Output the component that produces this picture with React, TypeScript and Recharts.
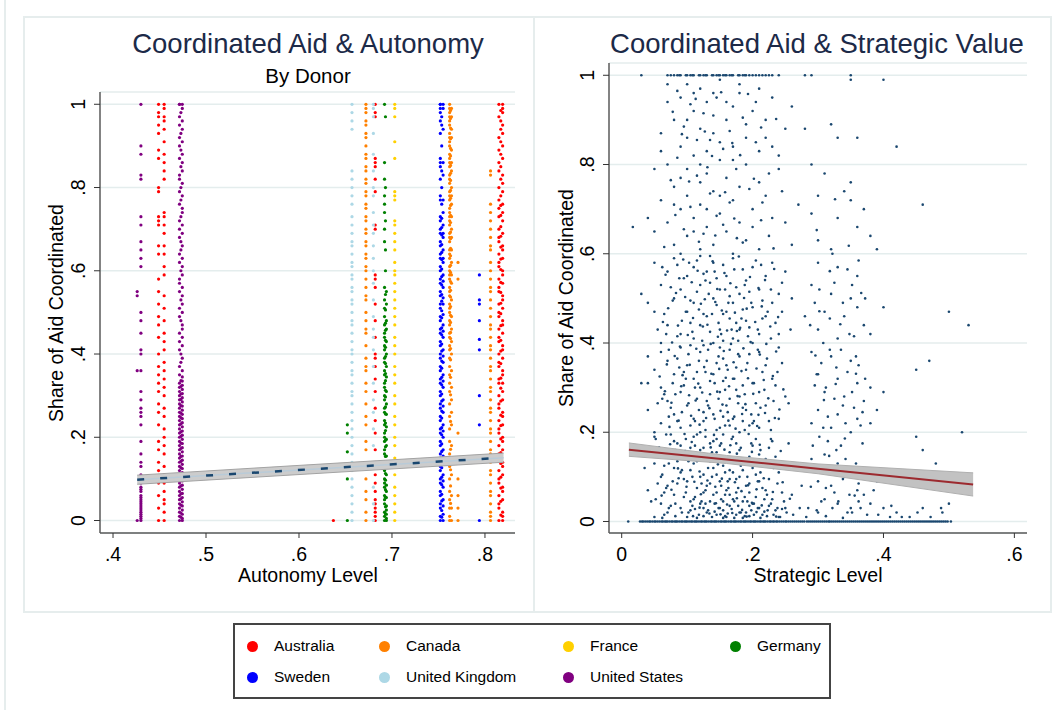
import { ComposedChart, Scatter, Line, Area, XAxis, YAxis, CartesianGrid } from 'recharts'

const FONT = '"Liberation Sans", Arial, Helvetica, sans-serif'
const NAVY = '#1a476f'

// legend order
const donors = ['Australia', 'Canada', 'France', 'Germany', 'Sweden', 'United Kingdom', 'United States']
const donorColors = ['#ff0000', '#ff8000', '#ffd000', '#008000', '#0000ff', '#add8e6', '#800080']

// share of aid coordinated, one list per donor-year autonomy column
const aus449 = [1, .98, .97, .95, .93, .89, .87, .80, .79, .73, .72, .71, .66, .64, .58, .55, .52, .49, .47, .44, .40, .37, .35, .33, .31, .28, .26, .23, .19, .17, .14, .12, .09, .06, .03, 0]
const aus455 = [1, .99, .97, .96, .94, .91, .88, .86, .84, .82, .74, .73, .71, .69, .66, .64, .61, .59, .54, .51, .48, .45, .43, .41, .38, .36, .34, .32, .30, .27, .25, .22, .20, .18, .16, .13, .11, .09, .07, .05, .04, .02, 0]
const aus637 = [0]
const aus682 = [1, .98, .97, .87, .86, .85, .82, .79, .71, .70, .59, .58, .56, .52, .48, .44, .40, .39, .37, .34, .31, .27, .24, .21, .17, .14, .11, .09, .07, .05, .04, .03, .02, .01, 0]
const aus815 = [1, .97, .92, .89, .86, .84, .80, .77, .75, .73, .70, .68, .67, .64, .62, .61, .58, .56, .55, .52, .50, .49, .46, .44, .43, .40, .38, .37, .34, .33, .30, .28, .27, .24, .22, .21, .18, .16, .15, .12, .10, .09, .06, .04, .03, 0]
const aus817 = [.985, .96, .94, .91, .88, .85, .82, .78, .757, .733, .706, .683, .657, .628, .603, .572, .548, .522, .497, .468, .433, .407, .377, .342, .318, .287, .253, .228, .196, .163, .137, .104, .078, .046, .013]
const aus819 = [1, .99, .98, .95, .93, .90, .87, .83, .81, .79, .76, .74, .72, .69, .66, .65, .63, .60, .59, .57, .54, .53, .51, .48, .47, .45, .42, .41, .39, .36, .35, .33, .31, .29, .26, .25, .23, .20, .19, .17, .14, .13, .11, .08, .07, .05, .02, .01, 0]

const can672 = [1, .99, .98, .96, .95, .93, .92, .90, .88, .87, .85, .84, .82, .81, .79, .78, .76, .75, .73, .72, .70, .69, .67, .66, .64, .63, .61, .60, .58, .56, .54, .53, .50, .48, .46, .45, .42, .39, .37, .36, .33, .31, .28, .25, .23, .19, .17, .13, .10, .07, .05, .02, 0]
const can762 = [1, .99, .98, .97, .96, .95, .93, .92, .91, .90, .88, .87, .86, .85, .83, .82, .81, .79, .78, .77, .75, .74, .73, .72, .71, .69, .68, .67, .65, .64, .63, .61, .60, .59, .58, .56, .55, .54, .52, .51, .50, .48, .47, .45, .44, .42, .41, .39, .37, .35, .33, .31, .28, .25, .22, .19, .16, .13, .10, .07, .05, .03, .01, 0]
const can763 = [.985, .966, .943, .917, .894, .876, .853, .834, .817, .793, .774, .757, .733, .716, .693, .677, .654, .636, .613, .596, .574, .553, .537, .514, .493, .476, .452, .437, .413, .386, .344, .302, .238, .171, .122, .083, .041]
const can764 = [.99, .97, .94, .92, .89, .86, .84, .80, .78, .76, .73, .70, .68, .65, .62, .59, .57, .53, .49, .46, .43, .40, .36, .32, .29, .26, .23, .18, .14, .11, .06, .03, 0]
const can771 = [.62, .58, .21, .10, .06, .03, 0]
const can806 = [.84, .83, .76, .74, .72, .70, .68, .66, .65, .62, .60, .58, .56, .55, .53, .51, .49, .47, .46, .44, .42, .41, .39, .37, .36, .34, .32, .31, .29, .27, .26, .24, .22, .21, .19, .17, .16, .14, .12, .11, .09, .07, .06, .04, .02, .01, 0]

const fra703 = [1, .99, .97, .91, .87, .79, .78, .77, .72, .71, .69, .67, .65, .62, .60, .59, .57, .55, .53, .51, .49, .47, .44, .42, .40, .37, .35, .33, .30, .28, .25, .23, .20, .18, .15, .13, .11, .08, .06, .04, .02, 0]

const ger652 = [.23, .21, .165, .10, 0]
const ger692 = [1, .86, .82, .78, .76, .74, .70, .67, .56, .53, .51, .49, .47, .45, .44, .42, .41, .39, .38, .36, .35, .33, .32, .30, .29, .27, .26, .24, .23, .21, .20, .19, .17, .16, .14, .13, .12, .10, .09, .08, .06, .05, .04, .02, .01, 0]
const ger693 = [.97, .80, .72, .65, .60, .543, .506, .474, .457, .433, .416, .394, .377, .353, .336, .313, .297, .273, .256, .234, .216, .193, .177, .154, .136, .113, .097, .074, .056, .033, .016]
const ger694 = [.55, .52, .48, .46, .43, .40, .37, .345, .31, .28, .255, .225, .195, .18, .155, .135, .11, .085, .07, .055, .035, .025, .015, .005, 0]

const swe752 = [1, 1, .99, .98, .96, .93, .87, .86, .85, .82, .78, .77, .73, .72, .70, .69, .67, .66, .64, .63, .61, .60, .58, .57, .55, .54, .52, .51, .49, .48, .46, .45, .43, .42, .40, .39, .37, .36, .34, .33, .31, .30, .28, .27, .25, .24, .22, .21, .19, .18, .16, .15, .13, .12, .10, .09, .07, .06, .04, .03, .01, 0]
const swe7535 = [.97, .95, .90, .84, .80, .76, .726, .704, .686, .663, .644, .627, .604, .586, .566, .543, .527, .504, .487, .463, .446, .424, .407, .383, .366, .344, .326, .304, .287, .263, .246, .223, .206, .184, .166, .143, .127, .104, .086, .063, .047, .024, .008]
const swe755 = [1, .99, .94, .86, .83, .77, .74, .71, .69, .68, .65, .63, .62, .59, .575, .56, .535, .52, .495, .47, .455, .44, .41, .395, .38, .35, .335, .32, .29, .275, .26, .23, .215, .20, .17, .155, .14, .11, .095, .08, .05, .035, .015, 0]
const swe794 = [.59, .53, .52, .48, .435, .41, .30, .23, 0]

const uk657 = [1, .98, .96, .94, .84, .82, .80, .78, .76, .73, .71, .69, .67, .66, .64, .62, .61, .59, .58, .56, .55, .53, .52, .50, .48, .47, .45, .43, .41, .40, .38, .36, .35, .33, .31, .30, .28, .26, .24, .22, .20, .18, .16, .14, .12, .10, .08, .06, .04, .02, 0]
const uk680 = [1, .99, .97, .93, .88, .84, .80, .78, .74, .71, .69, .66, .63, .60, .57, .53, .49, .46, .44, .41, .37, .33, .29, .26, .22, .18, .13, .08, .04, 0]

const us426 = [.55, .54, .36, 0]
const us430 = [1, .90, .88, .83, .82, .73, .71, .67, .65, .63, .61, .50, .48, .45, .41, .40, .36, .31, .29, .27, .26, .25, .23, .19, .16, .14, .13, .11, .095, .09, .08, .075, .07, .06, .055, .05, .045, .04, .035, .03, .025, .02, .015, .01, .005, 0]
const us4715 = [1, 1, .97, .95, .92, .90, .87, .83, .82, .79, .76, .72, .70, .68, .64, .62, .58, .57, .55, .51, .49, .45, .43, .41, .37, .35, .33, .32, .31, .30, .29, .28, .27, .26, .25, .24, .23, .22, .21, .20, .19, .18, .17, .16, .15, .14, .13, .12, .11, .10, .09, .08, .07, .06, .05, .04, .03, .02, .01, 0]
const us473 = [.98, .93, .89, .85, .80, .77, .73, .67, .65, .60, .53, .48, .40, .38, .336, .322, .304, .291, .276, .258, .247, .232, .213, .202, .186, .173, .154, .142, .127, .108, .096, .083, .064, .052, .037, .018, .008]
const us4745 = [1, .99, .96, .94, .91, .88, .86, .84, .81, .78, .75, .74, .71, .69, .66, .63, .61, .59, .56, .54, .52, .50, .47, .46, .44, .42, .39, .36, .345, .335, .325, .315, .305, .295, .285, .275, .265, .255, .245, .235, .225, .215, .205, .195, .185, .175, .165, .155, .145, .135, .125, .115, .105, .095, .085, .075, .065, .055, .045, .035, .025, .015, .005, 0]

const donorColumns: Record<string, [number, number[]][]> = {
  Australia: [[.449, aus449], [.455, aus455], [.637, aus637], [.682, aus682], [.815, aus815], [.817, aus817], [.819, aus819]],
  Canada: [[.672, can672], [.762, can762], [.763, can763], [.764, can764], [.771, can771], [.806, can806]],
  France: [[.703, fra703]],
  Germany: [[.652, ger652], [.692, ger692], [.693, ger693], [.694, ger694]],
  Sweden: [[.752, swe752], [.7535, swe7535], [.755, swe755], [.794, swe794]],
  'United Kingdom': [[.657, uk657], [.680, uk680]],
  'United States': [[.426, us426], [.430, us430], [.4715, us4715], [.473, us473], [.4745, us4745]],
}

// linear fit with 95% CI, autonomy panel
const autoFitX = [.426, .82]
const autoFit = [.098, .151]
const autoLo = [.087, .140]
const autoHi = [.109, .162]

// strategic level vs share coordinated, [x, y]
const stratTop: [number, number][] = [[.10,.98],[.12,.97],[.15,.99],[.18,.96],[.21,.97],[.09,.95],[.13,.94],[.17,.93],[.11,.92],[.14,.91],[.20,.92],[.08,.90],[.16,.90],[.19,.89],[.12,.88],[.06,.87],[.10,.86],[.14,.87],[.22,.86],[.09,.84],[.13,.83],[.17,.84],[.11,.82],[.15,.81],[.07,.80],[.19,.80],[.24,.82],[.28,.88],[.33,.86],[.32,.89],[.36,.86],[.42,.84],[.10,.79],[.13,.78],[.16,.77],[.12,.76],[.08,.75],[.18,.75],[.21,.76],[.14,.74],[.10,.73],[.06,.72],[.17,.72],[.12,.71],[.20,.70],[.09,.70],[.15,.69],[.11,.68],[.07,.67],[.18,.67],[.13,.66],[.23,.68],[.16,.65],[.10,.64],[.19,.63],[.08,.62],[.14,.62],[.12,.61],[.21,.61],[.17,.60],[.05,.65],[.04,.68],[.017,.66],[.27,.71],[.29,.69],[.30,.73],[.31,.78],[.34,.74],[.35,.72],[.37,.70],[.33,.68],[.36,.66],[.30,.63],[.32,.61],[.38,.64],[.29,.80],[.35,.76],[.39,.61],[.46,.71],[.26,.93],[.23,.95],[.25,.88],[.22,.90],[.24,.79],[.11,.96],[.07,.94],[.06,.83],[.05,.79],[.19,.86],[.16,.94],[.09,.77],[.20,.66],[.22,.73],[.25,.67],[.26,.62],[.07,.98],[.14,.96],[.18,.98],[.23,.84],[.08,.71],[.15,.73],[.13,.70],[.11,.65],[.09,.60],[.17,.81],[.21,.83],[.10,.90],[.15,.85],[.12,.80],[.40,.99],[.35,.99]]
const stratTop2: [number, number][] = [[.085,.965],[.105,.935],[.125,.915],[.145,.95],[.165,.875],[.185,.905],[.205,.85],[.095,.885],[.135,.855],[.155,.835],[.175,.79],[.115,.775],[.075,.765],[.195,.745],[.215,.715],[.105,.705],[.145,.685],[.165,.715],[.125,.645],[.185,.625],[.095,.655],[.065,.615],[.225,.64],[.245,.74],[.205,.94],[.225,.78],[.135,.735],[.155,.665],[.115,.855],[.085,.815]]
const stratOnes = [.03, .07, .075, .08, .085, .088, .09, .098, .10, .105, .108, .11, .118, .12, .125, .128, .13, .138, .14, .145, .148, .15, .155, .158, .16, .165, .168, .17, .178, .18, .185, .188, .19, .195, .20, .205, .21, .215, .22, .225, .23, .24, .28, .29, .35]
const stratMid: [number, number][] = [[.05,.58],[.08,.59],[.11,.57],[.14,.58],[.17,.59],[.20,.57],[.23,.58],[.07,.56],[.10,.55],[.13,.56],[.16,.55],[.19,.54],[.22,.55],[.25,.56],[.06,.53],[.09,.52],[.12,.53],[.15,.52],[.18,.51],[.21,.52],[.24,.51],[.08,.50],[.11,.49],[.14,.50],[.17,.49],[.20,.48],[.23,.49],[.05,.47],[.10,.47],[.13,.46],[.16,.47],[.19,.45],[.22,.46],[.07,.44],[.12,.44],[.15,.43],[.18,.43],[.21,.42],[.09,.42],[.11,.41],[.14,.40],[.17,.41],[.20,.40],[.24,.42],[.06,.40],[.30,.58],[.33,.57],[.36,.55],[.29,.53],[.32,.51],[.35,.50],[.31,.47],[.34,.46],[.37,.44],[.30,.43],[.33,.41],[.38,.42],[.36,.48],[.28,.46],[.40,.48],[.26,.50],[.03,.51],[.04,.49],[.50,.47],[.53,.44],[.12,.595],[.155,.575],[.185,.565],[.095,.545],[.135,.535],[.175,.525],[.115,.515],[.145,.485],[.185,.475],[.125,.465],[.165,.455],[.105,.445],[.195,.435],[.135,.425],[.085,.415],[.155,.405],[.215,.495],[.235,.445],[.065,.465],[.245,.535],[.115,.585],[.075,.525],[.295,.49],[.325,.535],[.355,.415],[.345,.565],[.205,.585],[.145,.545],[.165,.505],[.105,.495],[.125,.555],[.175,.445],[.055,.43],[.215,.455],[.195,.515],[.085,.575],[.155,.465],[.135,.595]]
const stratLow: [number, number][] = [[.04,.37],[.04,.31],[.03,.31],[.06,.38],[.09,.39],[.12,.38],[.15,.39],[.18,.37],[.21,.38],[.24,.39],[.07,.36],[.10,.35],[.13,.36],[.16,.35],[.19,.34],[.22,.35],[.05,.34],[.08,.33],[.11,.32],[.14,.33],[.17,.32],[.20,.31],[.23,.32],[.06,.30],[.09,.29],[.12,.30],[.15,.29],[.18,.28],[.21,.29],[.25,.28],[.07,.27],[.10,.26],[.13,.27],[.16,.26],[.19,.25],[.22,.26],[.04,.25],[.08,.24],[.11,.23],[.14,.24],[.17,.23],[.20,.22],[.24,.23],[.06,.22],[.09,.21],[.12,.20],[.15,.21],[.18,.20],[.21,.21],[.05,.20],[.29,.38],[.32,.37],[.35,.36],[.30,.33],[.33,.32],[.36,.31],[.31,.29],[.34,.28],[.37,.27],[.30,.25],[.33,.24],[.36,.23],[.32,.21],[.35,.20],[.29,.22],[.38,.30],[.39,.25],[.40,.29],[.45,.34],[.47,.36],[.38,.22],[.125,.395],[.165,.385],[.195,.375],[.085,.365],[.145,.355],[.175,.345],[.115,.335],[.155,.315],[.185,.305],[.095,.305],[.135,.285],[.165,.275],[.205,.265],[.075,.255],[.125,.245],[.155,.235],[.185,.225],[.105,.215],[.145,.205],[.235,.305],[.255,.265],[.065,.285],[.225,.225],[.245,.355],[.105,.395],[.135,.315],[.175,.295],[.195,.215],[.115,.275],[.085,.225],[.055,.265],[.215,.335],[.155,.365],[.095,.335],[.185,.255],[.125,.225],[.165,.215],[.305,.355],[.325,.275],[.345,.335],[.315,.235],[.355,.255],[.335,.385],[.295,.305],[.365,.215]]
const stratBottom: [number, number][] = [[.05,.19],[.08,.18],[.11,.19],[.14,.18],[.17,.19],[.20,.17],[.23,.18],[.06,.16],[.09,.17],[.12,.16],[.15,.17],[.18,.16],[.21,.15],[.07,.15],[.10,.14],[.13,.15],[.16,.14],[.19,.13],[.22,.14],[.05,.13],[.08,.12],[.11,.13],[.14,.12],[.17,.11],[.20,.12],[.24,.11],[.06,.10],[.09,.11],[.12,.10],[.15,.09],[.18,.10],[.21,.09],[.07,.08],[.10,.09],[.13,.08],[.16,.07],[.19,.08],[.22,.07],[.04,.07],[.08,.06],[.11,.05],[.14,.06],[.17,.05],[.20,.04],[.23,.05],[.06,.04],[.09,.03],[.12,.04],[.15,.03],[.18,.02],[.21,.03],[.07,.02],[.10,.01],[.13,.02],[.16,.01],[.19,.02],[.25,.03],[.05,.01],[.24,.01],[.26,.06],[.29,.14],[.31,.15],[.33,.13],[.30,.09],[.32,.08],[.34,.10],[.36,.07],[.31,.05],[.33,.04],[.35,.03],[.37,.06],[.30,.02],[.38,.04],[.40,.03],[.42,.02],[.44,.01],[.46,.03],[.43,.10],[.45,.19],[.46,.16],[.48,.13],[.50,.04],[.49,.02],[.52,.20],[.41,.01],[.39,.09],[.115,.195],[.145,.185],[.175,.175],[.085,.175],[.125,.165],[.165,.155],[.195,.145],[.095,.145],[.135,.135],[.155,.125],[.185,.115],[.105,.115],[.125,.105],[.165,.095],[.195,.085],[.085,.085],[.115,.075],[.145,.065],[.175,.065],[.205,.055],[.095,.055],[.135,.045],[.165,.035],[.195,.035],[.075,.035],[.105,.025],[.145,.015],[.175,.015],[.215,.015],[.065,.015],[.125,.012],[.155,.008],[.185,.008],[.115,.008],[.235,.025],[.245,.065],[.225,.095],[.215,.125],[.235,.145],[.055,.085],[.065,.125],[.045,.045],[.035,.12],[.255,.175],[.275,.08],[.285,.03],[.295,.12],[.305,.045],[.325,.065],[.345,.02],[.355,.11],[.365,.03],[.375,.015],[.385,.07],[.315,.18],[.335,.17],[.135,.175],[.105,.165],[.155,.195],[.145,.105],[.175,.135],[.115,.135],[.205,.105],[.185,.045],[.125,.065],[.095,.095],[.155,.045],[.165,.115],[.205,.185],[.075,.195],[.135,.085],[.195,.065],[.105,.045],[.225,.035],[.065,.065],[.085,.135],[.175,.095],[.215,.075],[.145,.155],[.155,.025],[.195,.012],[.165,.06],[.125,.03],[.225,.165]]
const stratDense: [number, number][] = [[.062,.57],[.088,.545],[.103,.58],[.128,.54],[.142,.56],[.158,.52],[.172,.565],[.188,.53],[.213,.575],[.228,.52],[.078,.495],[.098,.47],[.118,.475],[.133,.51],[.148,.445],[.163,.49],[.183,.455],[.198,.49],[.223,.47],[.068,.42],[.092,.45],[.108,.425],[.123,.405],[.138,.465],[.152,.42],[.168,.43],[.178,.405],[.193,.415],[.208,.43],[.228,.41],[.245,.47],[.258,.43],[.072,.385],[.088,.345],[.102,.375],[.118,.36],[.132,.385],[.148,.37],[.162,.34],[.178,.375],[.192,.355],[.208,.385],[.222,.365],[.238,.335],[.058,.325],[.078,.31],[.098,.32],[.112,.3],[.128,.335],[.142,.31],[.158,.295],[.172,.32],[.188,.285],[.202,.31],[.218,.295],[.232,.27],[.062,.275],[.082,.285],[.102,.265],[.118,.25],[.132,.26],[.148,.275],[.162,.245],[.178,.265],[.198,.24],[.212,.255],[.072,.235],[.092,.245],[.112,.225],[.128,.205],[.142,.23],[.158,.215],[.172,.235],[.188,.205],[.202,.225],[.228,.205],[.052,.185],[.068,.195],[.082,.16],[.098,.185],[.112,.17],[.128,.19],[.138,.155],[.152,.175],[.168,.185],[.182,.165],[.198,.175],[.212,.16],[.228,.185],[.058,.145],[.072,.13],[.088,.15],[.102,.135],[.118,.15],[.132,.12],[.142,.14],[.158,.11],[.168,.14],[.182,.125],[.198,.13],[.212,.11],[.232,.12],[.062,.105],[.078,.09],[.092,.115],[.108,.1],[.122,.085],[.138,.1],[.152,.08],[.162,.09],[.178,.075],[.192,.1],[.208,.09],[.222,.06],[.238,.085],[.052,.05],[.068,.075],[.082,.04],[.098,.065],[.112,.055],[.128,.07],[.142,.04],[.158,.06],[.172,.045],[.188,.055],[.202,.04],[.218,.05],[.248,.045],[.102,.02],[.108,.035],[.118,.015],[.122,.045],[.132,.025],[.138,.01],[.148,.03],[.152,.05],[.162,.018],[.168,.028],[.172,.008],[.178,.035],[.182,.02],[.188,.012],[.192,.045],[.198,.025],[.202,.015],[.208,.03],[.212,.008],[.218,.022],[.222,.012],[.228,.04],[.232,.015],[.238,.03],[.242,.01],[.252,.02],[.158,.012],[.142,.022],[.128,.04],[.112,.028],[.092,.02],[.082,.012],[.072,.03],[.062,.008],[.262,.015],[.272,.03],[.282,.01],[.298,.025],[.312,.012],[.322,.03],[.338,.008],[.352,.02],[.362,.045],[.392,.015],[.412,.035],[.428,.01],[.452,.02],[.472,.01],[.488,.03],[.292,.17],[.318,.12],[.328,.16],[.342,.14],[.358,.13],[.368,.175],[.302,.19],[.338,.095],[.348,.06],[.362,.085],[.372,.105],[.312,.075],[.302,.115],[.298,.33],[.312,.3],[.328,.345],[.338,.26],[.352,.29],[.362,.35],[.372,.32],[.318,.385],[.342,.22],[.308,.21],[.358,.37],[.368,.245],[.302,.52],[.318,.455],[.338,.49],[.348,.42],[.362,.585],[.372,.5],[.322,.6],[.308,.4],[.288,.44],[.352,.53]]
const stratDense2: [number, number][] = [[.067,.553],[.083,.512],[.094,.587],[.107,.536],[.116,.562],[.127,.498],[.139,.583],[.146,.521],[.157,.557],[.166,.534],[.179,.594],[.187,.501],[.196,.548],[.209,.523],[.219,.541],[.233,.566],[.071,.478],[.086,.439],[.097,.503],[.109,.456],[.121,.488],[.131,.441],[.143,.492],[.153,.473],[.161,.428],[.173,.468],[.181,.434],[.191,.477],[.204,.447],[.214,.482],[.227,.437],[.239,.458],[.063,.447],[.077,.401],[.089,.392],[.101,.418],[.114,.387],[.124,.437],[.136,.398],[.147,.414],[.156,.382],[.167,.398],[.176,.427],[.186,.388],[.197,.402],[.211,.374],[.221,.398],[.236,.381],[.069,.352],[.081,.371],[.093,.328],[.104,.351],[.117,.309],[.126,.346],[.137,.331],[.149,.342],[.159,.322],[.171,.357],[.183,.337],[.193,.321],[.206,.343],[.217,.317],[.231,.326],[.247,.296],[.066,.292],[.076,.266],[.091,.303],[.103,.283],[.113,.271],[.123,.289],[.134,.254],[.146,.291],[.154,.262],[.164,.303],[.177,.281],[.189,.263],[.201,.286],[.209,.239],[.224,.276],[.241,.251],[.073,.212],[.087,.226],[.096,.196],[.106,.237],[.119,.217],[.129,.232],[.141,.194],[.151,.248],[.163,.226],[.174,.208],[.184,.241],[.194,.196],[.207,.214],[.219,.243],[.234,.232],[.057,.166],[.074,.173],[.086,.119],[.097,.158],[.107,.178],[.119,.112],[.126,.148],[.136,.166],[.147,.128],[.157,.161],[.166,.171],[.176,.152],[.187,.138],[.199,.156],[.211,.172],[.226,.131],[.243,.158],[.061,.058],[.076,.071],[.087,.097],[.099,.078],[.111,.089],[.121,.061],[.131,.092],[.143,.078],[.153,.096],[.163,.075],[.173,.088],[.183,.068],[.193,.081],[.206,.072],[.217,.097],[.231,.066],[.246,.088],[.257,.051],[.109,.012],[.119,.031],[.134,.018],[.144,.041],[.151,.016],[.161,.038],[.169,.019],[.176,.052],[.184,.026],[.191,.011],[.199,.042],[.206,.021],[.214,.036],[.223,.025],[.236,.011],[.245,.028],[.078,.918],[.092,.868],[.113,.947],[.127,.874],[.138,.819],[.152,.962],[.169,.848],[.181,.821],[.193,.958],[.213,.883],[.236,.902],[.103,.762],[.131,.794],[.158,.738],[.172,.679],[.202,.768],[.118,.627],[.143,.641],[.176,.635],[.082,.687],[.213,.675],[.232,.612],[.298,.653],[.326,.722],[.347,.618],[.318,.561],[.302,.471],[.334,.442],[.366,.512],[.296,.372],[.327,.308],[.358,.331],[.309,.272],[.341,.186],[.317,.147],[.289,.078],[.331,.045],[.356,.058]]
const stratZeros = [.01, .028, .031, .033, .036, .039, .042, .044, .047, .05, .052, .055, .058, .061, .063, .066, .068, .07, .073, .076, .078, .081, .083, .085, .088, .091, .093, .096, .098, .10, .103, .106, .108, .111, .113, .115, .118, .121, .123, .126, .128, .13, .133, .136, .138, .141, .143, .145, .148, .151, .153, .156, .158, .16, .163, .166, .168, .171, .173, .175, .178, .181, .183, .186, .188, .19, .193, .196, .198, .201, .203, .205, .208, .211, .213, .216, .218, .22, .223, .226, .228, .231, .233, .236, .238, .241, .244, .247, .25, .252, .255, .258, .261, .264, .267, .27, .273, .276, .279, .283, .286, .289, .292, .295, .298, .301, .304, .307, .31, .313, .316, .318, .321, .324, .327, .33, .333, .336, .339, .342, .345, .348, .351, .354, .357, .36, .363, .366, .369, .372, .375, .378, .381, .384, .387, .39, .393, .396, .399, .402, .405, .408, .411, .414, .417, .42, .423, .426, .429, .432, .435, .438, .441, .444, .447, .45, .453, .456, .459, .462, .465, .468, .471, .474, .477, .48, .483, .486, .489, .492, .495, .498, .503]

// linear fit with 95% CI, strategic panel
const stratFitX = [.011, .16, .30, .537]
const stratFit = [.161, .139, .118, .083]
const stratLo = [.146, .130, .107, .057]
const stratHi = [.176, .148, .129, .109]

const fmt = (v: number) => (v === 0 ? '0' : v === 1 ? '1' : String(v).replace(/^0/, ''))

const YTick = ({ x, y, payload }: any) => {
  const bx = x - 7
  return (
    <text x={bx} y={y} transform={`rotate(-90 ${bx} ${y})`} textAnchor="middle" fontSize={19.5} fontFamily={FONT} fill="#000">
      {fmt(payload.value)}
    </text>
  )
}

const XTick = ({ x, y, payload }: any) => (
  <text x={x} y={y + 21} textAnchor="middle" fontSize={19.5} fontFamily={FONT} fill="#000">
    {fmt(payload.value)}
  </text>
)

const dot = (color: string, r: number) => (p: any) => <circle cx={p.cx} cy={p.cy} r={r} fill={color} />

const autonomyData = donors.map((name) =>
  donorColumns[name].flatMap(([x, ys]) => ys.map((y) => ({ x, y })))
)
const autoFitData = autoFitX.map((x, i) => ({ x, fit: autoFit[i], ci: [autoLo[i], autoHi[i]] }))

const strategicData = [
  ...stratZeros.map((x) => ({ x, y: 0 })),
  ...stratOnes.map((x) => ({ x, y: 1 })),
  ...[...stratTop, ...stratTop2, ...stratMid, ...stratLow, ...stratBottom, ...stratDense, ...stratDense2].map(([x, y]) => ({ x, y })),
]
const stratFitData = stratFitX.map((x, i) => ({ x, fit: stratFit[i], ci: [stratLo[i], stratHi[i]] }))

const axisLine = { stroke: '#5a5a5a', strokeWidth: 1.5 }
const tickLine = { stroke: '#333', strokeWidth: 1 }
const yTicks = [0, .2, .4, .6, .8, 1]

const abs = (s: any) => ({ position: 'absolute' as const, fontFamily: FONT, whiteSpace: 'nowrap' as const, ...s })

function AutonomyChart() {
  return (
    <ComposedChart width={530} height={610} data={autoFitData} margin={{ top: 92, right: 15, bottom: 37, left: 40 }}>
      <CartesianGrid vertical={false} stroke="#e4eded" strokeWidth={1.5} />
      <XAxis type="number" dataKey="x" domain={[.386, .8323]} ticks={[.4, .5, .6, .7, .8]} allowDataOverflow
        height={40} axisLine={axisLine} tickLine={tickLine} tickSize={5} tick={<XTick />} />
      <YAxis type="number" domain={[-.030, 1.0295]} ticks={yTicks} allowDataOverflow width={60}
        axisLine={axisLine} tickLine={tickLine} tickSize={6} tick={<YTick />} />
      {donors.map((name, i) => (
        <Scatter key={name} data={autonomyData[i]} dataKey="y" shape={dot(donorColors[i], 1.6)} isAnimationActive={false} />
      ))}
      <Area dataKey="ci" type="linear" fill="#cccccc" fillOpacity={1} stroke="#a3a3a3" strokeWidth={1}
        isAnimationActive={false} zIndex={700} />
      <Line dataKey="fit" type="linear" stroke="#b9cbd8" strokeWidth={1.5} dot={false} activeDot={false}
        isAnimationActive={false} zIndex={710} />
      <Line dataKey="fit" type="linear" stroke={NAVY} strokeWidth={2.5} strokeDasharray="7 16" dot={false}
        activeDot={false} isAnimationActive={false} zIndex={720} />
    </ComposedChart>
  )
}

function StrategicChart() {
  return (
    <ComposedChart width={528} height={610} data={stratFitData} margin={{ top: 63, right: 31, bottom: 37, left: 19 }}>
      <CartesianGrid vertical={false} stroke="#e4eded" strokeWidth={1.5} />
      <XAxis type="number" dataKey="x" domain={[-.0194, .6193]} ticks={[0, .2, .4, .6]} allowDataOverflow
        height={40} axisLine={axisLine} tickLine={tickLine} tickSize={5} tick={<XTick />} />
      <YAxis type="number" domain={[-.0258, 1.0275]} ticks={yTicks} allowDataOverflow width={60}
        axisLine={axisLine} tickLine={tickLine} tickSize={6} tick={<YTick />} />
      <Scatter data={strategicData} dataKey="y" shape={dot(NAVY, 1.3)} isAnimationActive={false} />
      <Area dataKey="ci" type="linear" fill="#c2c2c2" fillOpacity={1} stroke="#b0b0b0" strokeWidth={1}
        isAnimationActive={false} zIndex={700} />
      <Line dataKey="fit" type="linear" stroke="#9c2a2f" strokeWidth={2} dot={false} activeDot={false}
        isAnimationActive={false} zIndex={710} />
    </ComposedChart>
  )
}

export default function App() {
  const legendCols = [17, 149, 333, 500]
  return (
    <div style={{ position: 'absolute', left: 0, top: 0, width: 1058, height: 710, background: '#fff', overflow: 'hidden' }}>
      <div style={abs({ left: 4, top: 0, width: 2, height: 710, background: '#e6eded' })} />
      <div style={abs({ left: 23, top: 16, width: 508, height: 593, border: '2px solid #e6eded' })} />
      <div style={abs({ left: 533, top: 16, width: 515, height: 593, border: '2px solid #e6eded' })} />

      <div style={abs({ left: 0, top: 0 })}><AutonomyChart /></div>
      <div style={abs({ left: 530, top: 0 })}><StrategicChart /></div>

      <div style={abs({ left: 308, top: 30, transform: 'translateX(-50%)', fontSize: 27.5, lineHeight: '27.5px', color: '#1c2a48' })}>
        Coordinated Aid &amp; Autonomy
      </div>
      <div style={abs({ left: 308, top: 66, transform: 'translateX(-50%)', fontSize: 20.5, lineHeight: '20.5px', color: '#000' })}>
        By Donor
      </div>
      <div style={abs({ left: 817, top: 30, transform: 'translateX(-50%)', fontSize: 27.5, lineHeight: '27.5px', color: '#1c2a48' })}>
        Coordinated Aid &amp; Strategic Value
      </div>

      <div style={abs({ left: 308, top: 566, transform: 'translateX(-50%)', fontSize: 19.5, lineHeight: '19.5px', color: '#000' })}>
        Autonomy Level
      </div>
      <div style={abs({ left: 818, top: 566, transform: 'translateX(-50%)', fontSize: 19.5, lineHeight: '19.5px', color: '#000' })}>
        Strategic Level
      </div>
      <div style={abs({ left: 57, top: 313, transform: 'translate(-50%, -50%) rotate(-90deg)', fontSize: 19.5, lineHeight: '19.5px', color: '#000' })}>
        Share of Aid Coordinated
      </div>
      <div style={abs({ left: 567, top: 298, transform: 'translate(-50%, -50%) rotate(-90deg)', fontSize: 19.5, lineHeight: '19.5px', color: '#000' })}>
        Share of Aid Coordinated
      </div>

      <div style={abs({ left: 233, top: 623, width: 594, height: 72, border: '2px solid #444', background: '#fff' })}>
        {donors.map((name, i) => {
          const cx = legendCols[i % 4]
          const cy = i < 4 ? 21 : 52
          return (
            <div key={name}>
              <div style={abs({ left: cx - 5.5, top: cy - 5.5, width: 11, height: 11, borderRadius: 6, background: donorColors[i] })} />
              <div style={abs({ left: cx + 22, top: cy - 9, fontSize: 15.5, lineHeight: '18px', color: '#000' })}>{name}</div>
            </div>
          )
        })}
      </div>
    </div>
  )
}
